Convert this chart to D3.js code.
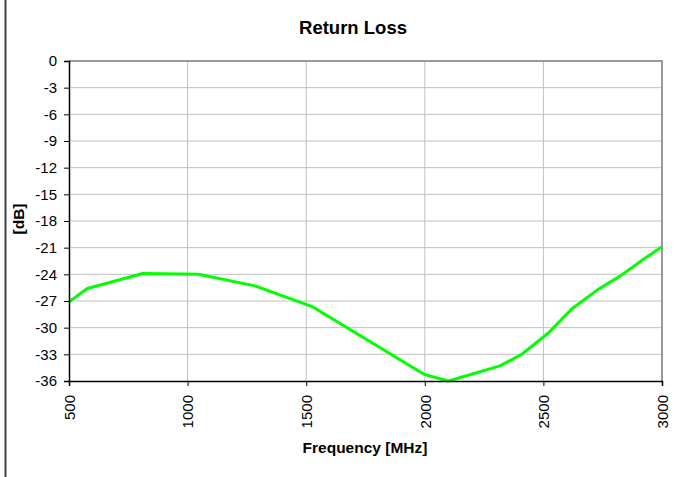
<!DOCTYPE html>
<html><head><meta charset="utf-8">
<script src="https://cdn.jsdelivr.net/npm/d3@7/dist/d3.min.js"></script>
<style>body{margin:0;background:#fff;} text{font-family:"Liberation Sans",Arial,sans-serif;}</style>
</head><body>
<svg id="c" width="692" height="477"></svg>
<script>
const freq = [500, 577, 811, 1045, 1284, 1523, 1997, 2100, 2317, 2408, 2521, 2619, 2725, 2823, 2928, 3000];
const returnLoss = [-27.1, -25.6, -23.9, -24.0, -25.3, -27.6, -35.25, -36.0, -34.3, -33.0, -30.6, -27.9, -25.8, -24.2, -22.2, -20.9];
const xTicks = [500, 1000, 1500, 2000, 2500, 3000];
const yTicks = [0, -3, -6, -9, -12, -15, -18, -21, -24, -27, -30, -33, -36];

const svg = d3.select("#c");
const L = 69, R = 662, T = 61, B = 381;
const x = d3.scaleLinear().domain([500, 3000]).range([L, R]);
const y = d3.scaleLinear().domain([-36, 0]).range([B, T]);

// outer left border
svg.append("line").attr("x1",5.5).attr("x2",5.5).attr("y1",0).attr("y2",477)
  .attr("stroke","#404040").attr("stroke-width",2);

// gridlines
svg.append("g").selectAll("line").data(yTicks.filter(d=>d!==0 && d!==-36)).join("line")
  .attr("x1",L).attr("x2",R).attr("y1",d=>y(d)).attr("y2",d=>y(d))
  .attr("stroke","#c0c0c0").attr("stroke-width",1);
svg.append("g").selectAll("line").data(xTicks.filter(d=>d!==500 && d!==3000)).join("line")
  .attr("x1",d=>x(d)).attr("x2",d=>x(d)).attr("y1",T).attr("y2",B)
  .attr("stroke","#c0c0c0").attr("stroke-width",1);

// top and right border
svg.append("path").attr("d",`M${L},${T}H${R}V${B}`).attr("fill","none")
  .attr("stroke","#999").attr("stroke-width",2);

// data line
svg.append("path").datum(freq.map((f,i)=>[f,returnLoss[i]]))
  .attr("d", d3.line().x(d=>x(d[0])).y(d=>y(d[1])))
  .attr("fill","none").attr("stroke","#00ff00").attr("stroke-width",3)
  .attr("stroke-linejoin","round");

// axes
const fmt = d => String(d);
const yAxis = svg.append("g").attr("transform",`translate(${L},0)`)
  .call(d3.axisLeft(y).tickValues(yTicks).tickSize(5).tickPadding(7).tickFormat(fmt));
const xAxis = svg.append("g").attr("transform",`translate(0,${B})`)
  .call(d3.axisBottom(x).tickValues(xTicks).tickSize(5).tickFormat(fmt));
[yAxis, xAxis].forEach(g=>{
  g.select(".domain").attr("stroke","#000").attr("stroke-width",1.5);
  g.selectAll(".tick line").attr("stroke","#000");
  g.selectAll("text").attr("font-size",15).attr("fill","#000").attr("font-family","Liberation Sans, Arial, sans-serif");
});
xAxis.selectAll(".tick text")
  .attr("transform","rotate(-90)").attr("text-anchor","end")
  .attr("x",-14).attr("y",0).attr("dy","0.35em");

// titles
svg.append("text").attr("x",353).attr("y",34).attr("text-anchor","middle")
  .attr("font-size",18.5).attr("font-weight","bold").text("Return Loss");
svg.append("text").attr("x",365).attr("y",453).attr("text-anchor","middle")
  .attr("font-size",15.5).attr("font-weight","bold").text("Frequency [MHz]");
svg.append("text").attr("transform","translate(24,219) rotate(-90)").attr("text-anchor","middle")
  .attr("font-size",15.5).attr("font-weight","bold").text("[dB]");
</script>
</body></html>
